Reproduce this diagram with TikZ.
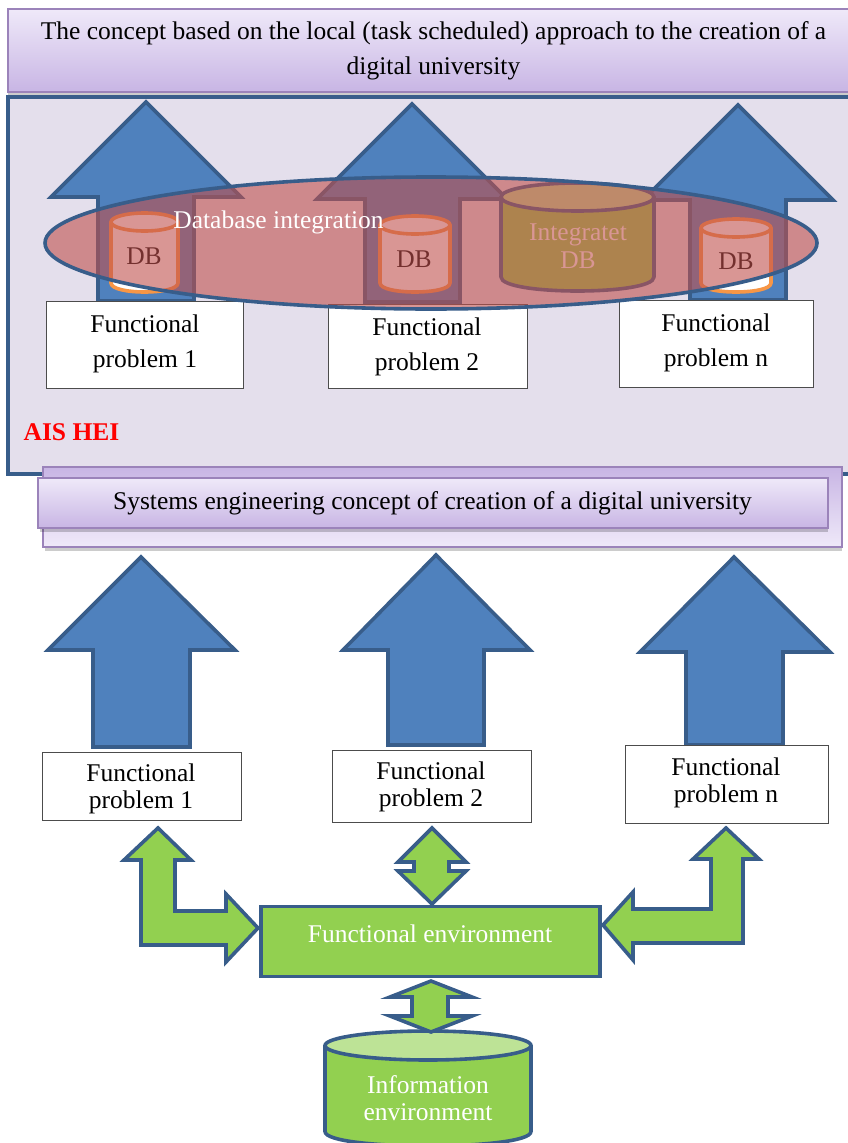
\documentclass[tikz,border=0pt]{standalone}
\usepackage{fontspec}
\setmainfont{Liberation Serif}
\definecolor{bluefill}{HTML}{4F81BD}
\definecolor{bluedge}{HTML}{385D8A}
\definecolor{greenfill}{HTML}{92D050}
\definecolor{greentop}{HTML}{BDE396}
\definecolor{lilac}{HTML}{E4DFEC}
\definecolor{purpedge}{HTML}{9B83BA}
\definecolor{gradlight}{HTML}{EFE9F9}
\definecolor{graddark}{HTML}{C8B5E4}
\definecolor{dborange}{HTML}{F79646}
\definecolor{ovalred}{HTML}{C0504D}
\newcommand{\dbcyl}[8]{%
  \pgfmathsetmacro{\cxa}{(#1+#2)/2}%
  \pgfmathsetmacro{\cra}{(#2-#1)/2}%
  \pgfmathsetmacro{\cta}{#3+#5}%
  \pgfmathsetmacro{\cba}{#4-#5}%
  \pgfmathsetmacro{\cca}{#4-#5+1.3333*#5}%
  \path[draw=#8,line width=3.6pt,fill=#6,line join=round]
    (#1,\cta) -- (#1,\cba) .. controls (#1,\cca) and (#2,\cca) .. (#2,\cba) -- (#2,\cta) -- cycle;
  \path[draw=#8,line width=3.6pt,fill=#7] (\cxa,\cta) ellipse [x radius=\cra,y radius=#5];
}
\tikzset{
  bigtext/.style={font=\fontsize{25.5}{35}\selectfont,align=center,inner sep=0pt,outer sep=0pt},
  lowtext/.style={font=\fontsize{25.5}{27}\selectfont,align=center,inner sep=0pt,outer sep=0pt},
  whitetext/.style={bigtext,text=white},
  probbox/.style={draw=black!70,line width=1pt,fill=white,inner sep=0pt,outer sep=0pt},
  blockarrow/.style={draw=bluedge,line width=3.6pt,fill=bluefill,line join=miter},
  greenarrow/.style={draw=bluedge,line width=3.6pt,fill=greenfill,line join=miter},
  bandfront/.style={draw=purpedge,line width=1.4pt,top color=gradlight,bottom color=graddark},
  bandback/.style={draw=purpedge,line width=1.4pt,top color=graddark,bottom color=gradlight},
  softshadow/.style={fill=black,opacity=.2},
}
\begin{document}
\begin{tikzpicture}[x=1pt,y=-1pt]
\clip (0,0) rectangle (848,1143);
% title band
\fill[softshadow] (8,92) rectangle (860,95);
\path[bandfront] (8,9) rectangle (860,92);
\node[bigtext] (title) at (433.5,51) {The concept based on the local (task scheduled) approach to the creation of a\\digital university};
% frame
\path[draw=bluedge,line width=3.6pt,fill=lilac] (8,97) rectangle (870,474);
\node[font=\fontsize{25.5}{25.5}\selectfont\bfseries,text=red,inner sep=0pt] (ais) at (71.5,432) {AIS HEI};
% second band
\fill[softshadow] (45,547) rectangle (842,551);
\path[bandback] (43,467) rectangle (842,547);
\fill[softshadow] (40,528) rectangle (828,532);
\path[bandfront] (38,478) rectangle (828,528);
\node[bigtext] (sys) at (432.5,503) {Systems engineering concept of creation of a digital university};
% upper arrows
\path[blockarrow] (146,102) -- (241,197) -- (194,197) -- (194,301) -- (98,301) -- (98,197) -- (51,197) -- cycle;
\path[blockarrow] (412,104) -- (507,199) -- (460,199) -- (460,302) -- (365,302) -- (365,199) -- (317,199) -- cycle;
\path[blockarrow] (738,105) -- (833,200) -- (786,200) -- (786,300) -- (690,300) -- (690,200) -- (643,200) -- cycle;
% small databases
\dbcyl{111}{178}{213}{292}{9}{white}{white}{dborange}
\dbcyl{380}{450}{216}{292}{9}{white}{white}{dborange}
\dbcyl{701}{771}{219}{292}{9}{white}{white}{dborange}
% upper boxes
\node[probbox,minimum width=197pt,minimum height=87pt] (ub1) at (145,344.5) {};
\node[probbox,minimum width=199pt,minimum height=84pt] (ub2) at (427.5,346) {};
\node[probbox,minimum width=194pt,minimum height=87pt] (ub3) at (716.5,343.5) {};
\node[bigtext] (ut1) at (145,344) {Functional\\problem 1};
\node[bigtext] (ut2) at (427,347) {Functional\\problem 2};
\node[bigtext] (ut3) at (716,343) {Functional\\problem n};
% integrated DB
\dbcyl{501}{654}{183}{291}{14}{greenfill}{greentop}{bluedge}
\node[bigtext] (dba) at (144,256) {DB};
\node[bigtext] (dbb) at (414,259) {DB};
\node[bigtext] (dbc) at (736,261) {DB};
\node[bigtext,text=white,font=\fontsize{25.5}{28}\selectfont] (idb) at (578,246) {Integratet\\DB};
% overlay oval
\path[draw=bluedge,line width=3.6pt,fill=ovalred,fill opacity=.6] (431,243) ellipse [x radius=386,y radius=66];
\node[whitetext] (dbint) at (278.5,222) {Database integration};
% lower arrows
\path[blockarrow] (141,557) -- (235,650) -- (190,650) -- (190,747) -- (93,747) -- (93,650) -- (48,650) -- cycle;
\path[blockarrow] (436,555) -- (530,650) -- (484,650) -- (484,745) -- (388,745) -- (388,650) -- (343,650) -- cycle;
\path[blockarrow] (734,557) -- (830,652) -- (783,652) -- (783,745) -- (686,745) -- (686,652) -- (640,652) -- cycle;
% lower boxes
\node[probbox,minimum width=199pt,minimum height=68pt] (lb1) at (141.5,786) {};
\node[probbox,minimum width=199pt,minimum height=72pt] (lb2) at (431.5,786) {};
\node[probbox,minimum width=203pt,minimum height=78pt] (lb3) at (726.5,784) {};
\node[lowtext] (lt1) at (141,789) {Functional\\problem 1};
\node[lowtext] (lt2) at (431,787) {Functional\\problem 2};
\node[lowtext] (lt3) at (726,782.5) {Functional\\problem n};
% information cylinder
\dbcyl{325}{531}{1031}{1146}{14.5}{greenfill}{greentop}{bluedge}
\node[lowtext,text=white] (info) at (428,1098) {Information\\environment};
% green arrows
\path[greenarrow] (158,828) -- (191,860) -- (175,860) -- (175,911) -- (226,911) -- (226,894) -- (258,928) -- (226,962) -- (226,945) -- (141,945) -- (141,860) -- (124,860) -- cycle;
\path[greenarrow] (726,828) -- (759,859) -- (743,859) -- (743,943) -- (633,943) -- (633,960) -- (603,925) -- (633,892) -- (633,909) -- (711,909) -- (711,859) -- (693,859) -- cycle;
\path[greenarrow] (432,828) -- (466,862) -- (449,862) -- (449,871) -- (466,871) -- (432,904) -- (398,871) -- (414,871) -- (414,862) -- (398,862) -- cycle;
\node[draw=bluedge,line width=3.6pt,fill=greenfill,minimum width=339pt,minimum height=70pt,inner sep=0pt,outer sep=0pt] (fe) at (430.5,941.5) {};
\node[whitetext] (fet) at (430,934) {Functional environment};
\path[greenarrow] (431,981) -- (472,997) -- (448,997) -- (448,1016) -- (472,1016) -- (431,1032) -- (390,1016) -- (412,1016) -- (412,997) -- (390,997) -- cycle;
\end{tikzpicture}
\end{document}
